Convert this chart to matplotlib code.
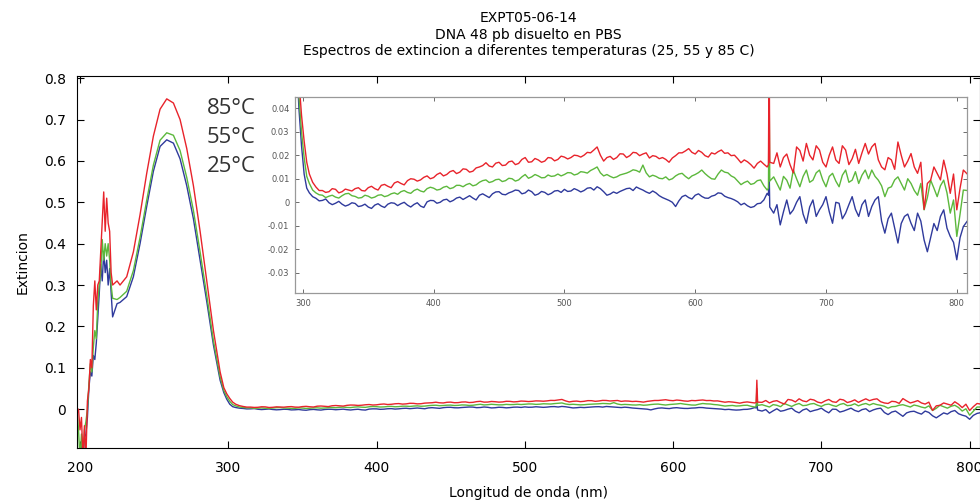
import matplotlib
matplotlib.use('Agg')
import matplotlib.pyplot as plt
from matplotlib.ticker import FuncFormatter

plt.rcParams['font.family'] = ['DejaVu Sans']

# longitudes de onda (nm)
wl_peak = [197, 198, 199, 200, 201, 202, 203, 204, 205, 206, 207, 208, 209,
           210, 211, 212, 213, 214, 215, 216, 217, 218, 219, 220, 221, 222,
           225, 227, 231.5, 236, 240.5, 245, 249.5, 254, 258.5, 263, 267.5,
           272, 276.5, 281, 285.5, 290, 294.5, 297, 299, 301, 303]
wl_flat = list(range(305, 656, 5)) + [656, 656.5, 657] + list(range(660, 806, 5)) + [808]
wl_mid = [x + 2.5 for x in range(305, 651, 5)] + [x + 2.5 for x in range(660, 801, 5)]

# 85 C
red_peak = [0.0, -0.01, 0.0, -0.05, -0.02, -0.12, -0.04, -0.12, 0.02, 0.05, 0.12, 0.10, 0.25,
            0.31, 0.24, 0.30, 0.31, 0.38, 0.45, 0.525, 0.43, 0.51, 0.45, 0.43, 0.33, 0.30,
            0.31, 0.30, 0.32, 0.38, 0.47, 0.57, 0.66, 0.725, 0.750, 0.74, 0.70,
            0.63, 0.54, 0.43, 0.31, 0.19, 0.09, 0.052, 0.037, 0.026, 0.017]
red_flat = [0.0120, 0.0065, 0.0050, 0.0045, 0.0055, 0.0045, 0.0052, 0.0058, 0.0050, 0.0062,
            0.0058, 0.0072, 0.0068, 0.0082, 0.0080, 0.0092, 0.0098, 0.0095, 0.0112, 0.0105,
            0.0125, 0.0118, 0.0135, 0.0128, 0.0140, 0.0132, 0.0150, 0.0168, 0.0150, 0.0170,
            0.0158, 0.0175, 0.0165, 0.0190, 0.0172, 0.0180, 0.0175, 0.0188, 0.0182, 0.0192,
            0.0190, 0.0198, 0.0200, 0.0210, 0.0235, 0.0175, 0.0195, 0.0190, 0.0205, 0.0198,
            0.0210, 0.0205, 0.0188, 0.0195, 0.0190, 0.0170, 0.0198, 0.0210, 0.0228, 0.0205,
            0.0212, 0.0192, 0.0205, 0.0222, 0.0210, 0.0200, 0.0168, 0.0172, 0.0145, 0.0175,
            0.0150, 0.0160, 0.0700, 0.0170,
            0.0165, 0.0150, 0.0205, 0.0125, 0.0220, 0.0250, 0.0180, 0.0222, 0.0150, 0.0235,
            0.0165, 0.0222, 0.0185, 0.0165, 0.0250, 0.0235, 0.0180, 0.0138, 0.0180, 0.0256,
            0.0150, 0.0207, 0.0123, -0.0030, 0.0094, 0.0123, 0.0179, 0.0038, -0.0032, 0.0137,
            0.0120]
red_mid = [0.0085, 0.0050, 0.0042, 0.0058, 0.0040, 0.0056, 0.0048, 0.0062, 0.0048, 0.0068,
           0.0052, 0.0076, 0.0062, 0.0088, 0.0074, 0.0100, 0.0090, 0.0106, 0.0100, 0.0118,
           0.0112, 0.0130, 0.0122, 0.0142, 0.0128, 0.0146, 0.0156, 0.0154, 0.0166, 0.0156,
           0.0172, 0.0160, 0.0182, 0.0170, 0.0186, 0.0170, 0.0190, 0.0176, 0.0196, 0.0184,
           0.0200, 0.0192, 0.0212, 0.0222, 0.0200, 0.0190, 0.0182, 0.0206, 0.0190, 0.0212,
           0.0198, 0.0210, 0.0198, 0.0185, 0.0182, 0.0188, 0.0210, 0.0218, 0.0212, 0.0220,
           0.0198, 0.0210, 0.0215, 0.0208, 0.0198, 0.0185, 0.0180, 0.0160, 0.0165, 0.0162,
           0.0210, 0.0190, 0.0160, 0.0235, 0.0175, 0.0200, 0.0240, 0.0170, 0.0200, 0.0180,
           0.0240, 0.0160, 0.0225, 0.0210, 0.0205, 0.0250, 0.0150, 0.0190, 0.0140, 0.0200,
           0.0175, 0.0150, 0.0170, 0.0080, 0.0150, 0.0095, 0.0120, 0.0120, 0.0060]

# 55 C
green_peak = [0.0, 0.0, -0.05, -0.12, -0.06, -0.12, -0.05, -0.03, 0.0, 0.06, 0.11, 0.09, 0.15,
              0.19, 0.17, 0.26, 0.30, 0.33, 0.41, 0.36, 0.40, 0.37, 0.40, 0.36, 0.30, 0.268,
              0.265, 0.27, 0.285, 0.335, 0.415, 0.505, 0.59, 0.65, 0.668, 0.662, 0.625,
              0.56, 0.48, 0.38, 0.275, 0.165, 0.078, 0.045, 0.030, 0.019, 0.011]
green_flat = [0.0080, 0.0040, 0.0030, 0.0026, 0.0022, 0.0028, 0.0038, 0.0025, 0.0020, 0.0026,
              0.0022, 0.0032, 0.0028, 0.0040, 0.0045, 0.0042, 0.0050, 0.0048, 0.0058, 0.0060,
              0.0055, 0.0068, 0.0062, 0.0072, 0.0075, 0.0070, 0.0085, 0.0095, 0.0088, 0.0098,
              0.0092, 0.0100, 0.0095, 0.0118, 0.0108, 0.0112, 0.0105, 0.0110, 0.0120, 0.0118,
              0.0125, 0.0120, 0.0128, 0.0135, 0.0150, 0.0112, 0.0110, 0.0108, 0.0120, 0.0130,
              0.0135, 0.0158, 0.0108, 0.0110, 0.0100, 0.0095, 0.0112, 0.0123, 0.0100, 0.0118,
              0.0137, 0.0110, 0.0098, 0.0137, 0.0125, 0.0105, 0.0075, 0.0090, 0.0080, 0.0095,
              0.0052, 0.0060, 0.0500, 0.0090,
              0.0108, 0.0052, 0.0094, 0.0137, 0.0066, 0.0137, 0.0094, 0.0137, 0.0066, 0.0123,
              0.0066, 0.0137, 0.0094, 0.0080, 0.0137, 0.0137, 0.0094, 0.0024, 0.0066, 0.0108,
              0.0052, 0.0080, 0.0030, -0.0032, 0.0094, 0.0024, 0.0094, -0.0046, -0.0145, 0.0052,
              0.0050]
green_mid = [0.0052, 0.0032, 0.0020, 0.0030, 0.0018, 0.0036, 0.0028, 0.0018, 0.0030, 0.0018,
             0.0030, 0.0024, 0.0036, 0.0034, 0.0050, 0.0038, 0.0056, 0.0044, 0.0064, 0.0052,
             0.0064, 0.0058, 0.0072, 0.0066, 0.0080, 0.0074, 0.0092, 0.0084, 0.0096, 0.0088,
             0.0102, 0.0090, 0.0108, 0.0102, 0.0118, 0.0104, 0.0116, 0.0112, 0.0112, 0.0126,
             0.0116, 0.0130, 0.0124, 0.0142, 0.0125, 0.0118, 0.0104, 0.0116, 0.0124, 0.0138,
             0.0128, 0.0125, 0.0115, 0.0102, 0.0108, 0.0100, 0.0120, 0.0110, 0.0112, 0.0126,
             0.0122, 0.0100, 0.0120, 0.0128, 0.0112, 0.0090, 0.0084, 0.0076, 0.0092, 0.0070,
             0.0080, 0.0110, 0.0060, 0.0100, 0.0110, 0.0085, 0.0125, 0.0095, 0.0110, 0.0090,
             0.0115, 0.0085, 0.0130, 0.0115, 0.0100, 0.0110, 0.0070, 0.0060, 0.0095, 0.0080,
             0.0100, 0.0050, 0.0080, 0.0020, 0.0060, 0.0070, 0.0040, 0.0010, -0.0050]

# 25 C
blue_peak = [0.0, -0.12, -0.10, -0.12, -0.08, -0.12, -0.07, -0.06, -0.02, 0.05, 0.09, 0.08, 0.13,
             0.12, 0.16, 0.22, 0.28, 0.35, 0.31, 0.38, 0.33, 0.36, 0.30, 0.34, 0.28, 0.223,
             0.255, 0.258, 0.272, 0.32, 0.40, 0.49, 0.575, 0.635, 0.651, 0.643, 0.605,
             0.54, 0.46, 0.36, 0.26, 0.155, 0.07, 0.040, 0.024, 0.012, 0.006]
blue_flat = [0.0040, 0.0017, 0.0008, -0.0002, -0.0004, -0.0008, -0.0011, -0.0005, -0.0015, -0.0020,
             -0.0012, -0.0016, -0.0008, -0.0004, -0.0006, -0.0012, -0.0009, -0.0016, 0.0002, 0.0007,
             0.0000, 0.0013, 0.0008, 0.0022, 0.0020, 0.0018, 0.0030, 0.0028, 0.0036, 0.0045,
             0.0032, 0.0045, 0.0050, 0.0040, 0.0045, 0.0035, 0.0042, 0.0038, 0.0050, 0.0055,
             0.0048, 0.0052, 0.0050, 0.0062, 0.0066, 0.0045, 0.0035, 0.0038, 0.0052, 0.0060,
             0.0065, 0.0052, 0.0038, 0.0040, 0.0020, 0.0008, -0.0018, 0.0024, 0.0020, 0.0030,
             0.0025, 0.0017, 0.0030, 0.0038, 0.0020, 0.0010, -0.0011, -0.0015, -0.0018, -0.0004,
             0.0038, 0.0030, 0.0150, -0.0020,
             -0.0046, -0.0096, 0.0010, -0.0032, 0.0024, -0.0089, 0.0010, -0.0032, 0.0024, -0.0089,
             -0.0004, -0.0046, 0.0024, -0.0060, 0.0010, -0.0018, 0.0024, -0.0131, -0.0046, -0.0173,
             -0.0060, -0.0089, -0.0046, -0.0160, -0.0150, -0.0120, -0.0032, -0.0145, -0.0244, -0.0103,
             -0.0080]
blue_mid = [0.0024, 0.0006, 0.0014, -0.0010, 0.0004, -0.0016, -0.0002, -0.0018, -0.0008, -0.0026,
            -0.0006, -0.0022, -0.0002, -0.0014, 0.0000, -0.0020, -0.0002, -0.0022, 0.0008, -0.0004,
            0.0010, 0.0002, 0.0018, 0.0012, 0.0028, 0.0010, 0.0036, 0.0020, 0.0044, 0.0034,
            0.0040, 0.0052, 0.0036, 0.0052, 0.0030, 0.0046, 0.0032, 0.0048, 0.0042, 0.0046,
            0.0058, 0.0044, 0.0060, 0.0052, 0.0058, 0.0030, 0.0044, 0.0046, 0.0058, 0.0050,
            0.0058, 0.0044, 0.0048, 0.0028, 0.0014, 0.0000, 0.0006, 0.0030, 0.0014, 0.0036,
            0.0018, 0.0026, 0.0040, 0.0026, 0.0016, 0.0002, -0.0004, -0.0022, -0.0006, 0.0010,
            -0.0010, -0.0040, -0.0050, 0.0000, -0.0050, -0.0020, -0.0060, -0.0010, -0.0040, 0.0000,
            -0.0070, -0.0010, -0.0030, -0.0010, -0.0060, 0.0010, -0.0080, -0.0070, -0.0110, -0.0090,
            -0.0050, -0.0120, -0.0080, -0.0210, -0.0090, -0.0060, -0.0110, -0.0170, -0.0150]

temps = ['85°C', '55°C', '25°C']
temp_y = [0.727, 0.657, 0.587]
colores = {'85°C': '#e8232b', '55°C': '#5cb83c', '25°C': '#2f3a9c'}


def curva(peak, flat, mid):
    pts = sorted(zip(wl_peak + wl_flat + wl_mid, peak + flat + mid))
    return [p[0] for p in pts], [p[1] for p in pts]


series = [('25°C', curva(blue_peak, blue_flat, blue_mid)),
          ('55°C', curva(green_peak, green_flat, green_mid)),
          ('85°C', curva(red_peak, red_flat, red_mid))]

fig = plt.figure(figsize=(9.8, 5.04), dpi=100)
ax = fig.add_axes([0.0786, 0.111, 0.9214, 0.738])

for t, (x, y) in series:
    ax.plot(x, y, color=colores[t], lw=1.0)

ax.set_xlim(198, 807)
ax.set_ylim(-0.094, 0.805)
ax.set_xticks([200, 300, 400, 500, 600, 700, 800])
ax.set_yticks([0, 0.1, 0.2, 0.3, 0.4, 0.5, 0.6, 0.7, 0.8])
ax.yaxis.set_major_formatter(FuncFormatter(lambda v, p: '%g' % round(v, 2)))
ax.tick_params(direction='in', top=True, right=True, length=5, labelsize=10)
ax.tick_params(axis='x', pad=9)
ax.tick_params(axis='y', pad=8)
ax.set_xlabel('Longitud de onda (nm)', fontsize=10, labelpad=8)
ax.set_ylabel('Extincion', fontsize=10, labelpad=10)
ax.set_title('EXPT05-06-14\nDNA 48 pb disuelto en PBS\n'
             'Espectros de extincion a diferentes temperaturas (25, 55 y 85 C)',
             fontsize=10, linespacing=1.25, pad=15)

# etiquetas de temperatura
for t, ty in zip(temps, temp_y):
    ax.text(285.5, ty, t, fontsize=16, color='#333333',
            family=['Open Sans', 'DejaVu Sans'], ha='left', va='center')

# recuadro ampliado
ins = fig.add_axes([0.301, 0.4187, 0.686, 0.3888])
ins.set_zorder(3)
for t, (x, y) in series:
    ins.plot(x, y, color=colores[t], lw=1.0)
ins.set_xlim(294, 808)
ins.set_ylim(-0.0385, 0.0447)
ins.set_xticks([300, 400, 500, 600, 700, 800])
ins.set_yticks([-0.03, -0.02, -0.01, 0, 0.01, 0.02, 0.03, 0.04])
ins.yaxis.set_major_formatter(FuncFormatter(lambda v, p: '%g' % round(v, 3)))
ins.tick_params(direction='in', top=True, right=True, length=3, width=0.6,
                labelsize=6, colors='#555555', pad=4)
for s in ins.spines.values():
    s.set_color('#999999')
    s.set_linewidth(0.9)

plt.savefig('out.png', dpi=100)
